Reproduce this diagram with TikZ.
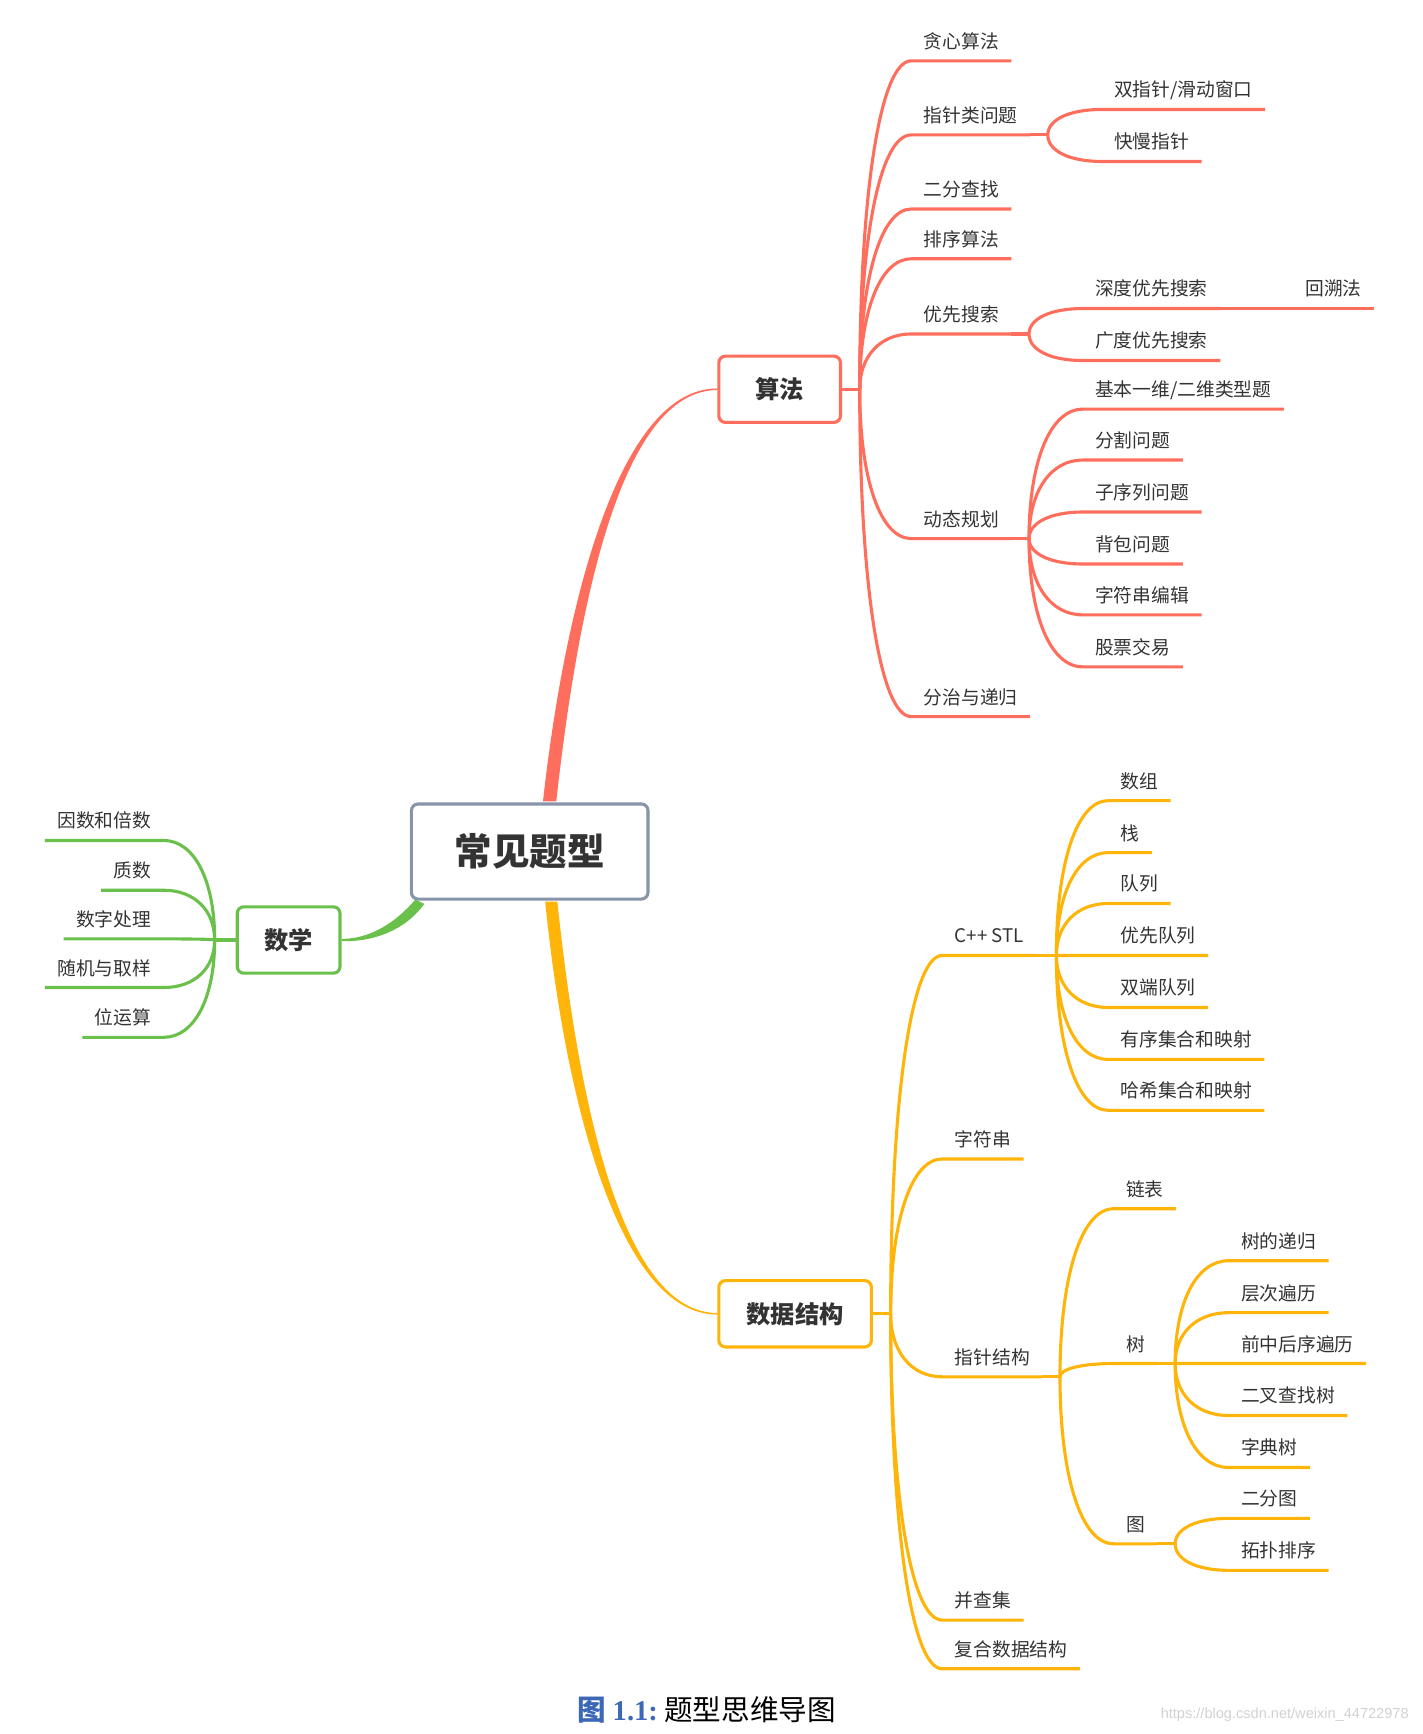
\documentclass[tikz,border=0pt]{standalone}
\usepackage{fontspec}
\setmainfont{Noto Sans CJK SC}
\newfontfamily\capfont{Liberation Serif}
\newfontfamily\wmfont{Liberation Sans}
\usetikzlibrary{calc}

\definecolor{algored}{RGB}{255,110,92}
\definecolor{dsorange}{RGB}{255,180,10}
\definecolor{mathgreen}{RGB}{105,192,74}
\definecolor{rootline}{RGB}{135,148,170}
\definecolor{txt}{RGB}{51,51,51}
\definecolor{capblue}{RGB}{61,104,181}

\tikzset{
  topic/.style={draw, rounded corners=0.12cm, line width=1.6pt, fill=white, text=txt,
    font=\bfseries\fontsize{12.5}{14}\selectfont, minimum height=1.2cm},
  leaf/.style={anchor=south west, inner xsep=0.22cm, inner ysep=0.12cm, text height=0.3cm,
    text depth=0.1cm, text=txt, font=\fontsize{9.65}{11}\selectfont},
  lleaf/.style={leaf, anchor=south east},
  twig/.style={line width=1.6pt},
  fan/.style={to path={.. controls ($(\tikztostart)!0.6!(\tikztostart |- \tikztotarget)$)
    and ($(\tikztotarget)!0.6!(\tikztostart |- \tikztotarget)$) .. (\tikztotarget) \tikztonodes}}
}

\begin{document}
\begin{tikzpicture}[x=0.02cm, y=-0.02cm]
  \useasboundingbox (0,0) rectangle (1286,1568);

  % main topics
  \node[topic, draw=rootline, minimum width=4.28cm, minimum height=1.72cm,
    font=\bfseries\fontsize{19.3}{22}\selectfont] (root) at (479,770) {常见题型};
  \node[topic, draw=algored, minimum width=2.2cm] (suanfa) at (705,352) {算法};
  \node[topic, draw=dsorange, minimum width=2.76cm] (shuju) at (719,1188) {数据结构};
  \node[topic, draw=mathgreen, minimum width=1.86cm] (shuxue) at (261,850) {数学};

  % tapered main branches
  \fill[algored] ($(root.north)+(12,-1)$) .. controls (511,545) and (560,351) .. ($(suanfa.west)+(0,-0.7)$)
    -- ($(suanfa.west)+(0,0.7)$) .. controls (562,353) and (523,545) .. ($(root.north)+(24,-1)$) -- cycle;
  \fill[dsorange] ($(root.south)+(14,1)$) .. controls (511,995) and (560,1189) .. ($(shuju.west)+(0,0.7)$)
    -- ($(shuju.west)+(0,-0.7)$) .. controls (562,1187) and (523,995) .. ($(root.south)+(25,1)$) -- cycle;
  \fill[mathgreen] ($(root.south west)+(5,-1)$) .. controls (358,834) and (335,849) .. ($(shuxue.east)+(0,-1)$)
    -- ($(shuxue.east)+(0,1)$) .. controls (336,852) and (366,842) .. ($(root.south west)+(13,3)$) -- cycle;

  % algorithms
  \coordinate (ja) at ($(suanfa.east)+(16,0)$);
  \draw[twig, algored] (suanfa.east) -- (ja);
  \node[leaf] (tanxin) at (824,55) {贪心算法};
  \node[leaf] (zhizhen) at (824,122) {指针类问题};
  \node[leaf] (erfen) at (824,189) {二分查找};
  \node[leaf] (paixu) at (824,234) {排序算法};
  \node[leaf] (youxian) at (824,302) {优先搜索};
  \node[leaf] (dongtai) at (824,487) {动态规划};
  \node[leaf] (fenzhi) at (824,648) {分治与递归};
  \draw[twig, algored] (ja) to[fan] (tanxin.south west) -- (tanxin.south east);
  \draw[twig, algored] (ja) to[fan] (zhizhen.south west) -- (zhizhen.south east);
  \draw[twig, algored] (ja) to[fan] (erfen.south west) -- (erfen.south east);
  \draw[twig, algored] (ja) to[fan] (paixu.south west) -- (paixu.south east);
  \draw[twig, algored] (ja) to[fan] (youxian.south west) -- (youxian.south east);
  \draw[twig, algored] (ja) to[fan] (dongtai.south west) -- (dongtai.south east);
  \draw[twig, algored] (ja) to[fan] (fenzhi.south west) -- (fenzhi.south east);

  \coordinate (jzz) at ($(zhizhen.south east)+(16,0)$);
  \draw[twig, algored] (zhizhen.south east) -- (jzz);
  \node[leaf] (shuangzz) at (996,99) {双指针/滑动窗口};
  \node[leaf] (kuaiman) at (996,146) {快慢指针};
  \draw[twig, algored] (jzz) to[fan] (shuangzz.south west) -- (shuangzz.south east);
  \draw[twig, algored] (jzz) to[fan] (kuaiman.south west) -- (kuaiman.south east);

  \coordinate (jyx) at ($(youxian.south east)+(16,0)$);
  \draw[twig, algored] (youxian.south east) -- (jyx);
  \node[leaf] (shendu) at (979,279) {深度优先搜索};
  \node[leaf] (guangdu) at (979,326) {广度优先搜索};
  \node[leaf] (huisu) at (1169,279) {回溯法};
  \draw[twig, algored] (jyx) to[fan] (shendu.south west) -- (shendu.south east);
  \draw[twig, algored] (jyx) to[fan] (guangdu.south west) -- (guangdu.south east);
  \draw[twig, algored] (shendu.south east) -- (huisu.south west) -- (huisu.south east);

  \coordinate (jdt) at ($(dongtai.south east)+(16,0)$);
  \draw[twig, algored] (dongtai.south east) -- (jdt);
  \node[leaf] (jiben) at (979,370) {基本一维/二维类型题};
  \node[leaf] (fenge) at (979,416) {分割问题};
  \node[leaf] (zixulie) at (979,463) {子序列问题};
  \node[leaf] (beibao) at (979,510) {背包问题};
  \node[leaf] (bianji) at (979,556) {字符串编辑};
  \node[leaf] (gupiao) at (979,603) {股票交易};
  \draw[twig, algored] (jdt) to[fan] (jiben.south west) -- (jiben.south east);
  \draw[twig, algored] (jdt) to[fan] (fenge.south west) -- (fenge.south east);
  \draw[twig, algored] (jdt) to[fan] (zixulie.south west) -- (zixulie.south east);
  \draw[twig, algored] (jdt) to[fan] (beibao.south west) -- (beibao.south east);
  \draw[twig, algored] (jdt) to[fan] (bianji.south west) -- (bianji.south east);
  \draw[twig, algored] (jdt) to[fan] (gupiao.south west) -- (gupiao.south east);

  % data structures
  \coordinate (jd) at ($(shuju.east)+(16,0)$);
  \draw[twig, dsorange] (shuju.east) -- (jd);
  \node[leaf] (stl) at (852,864) {C++ STL};
  \node[leaf] (zfc) at (852,1048) {字符串};
  \node[leaf] (zzjg) at (852,1245) {指针结构};
  \node[leaf] (bingcha) at (852,1465) {并查集};
  \node[leaf] (fuhe) at (852,1509) {复合数据结构};
  \draw[twig, dsorange] (jd) to[fan] (stl.south west) -- (stl.south east);
  \draw[twig, dsorange] (jd) to[fan] (zfc.south west) -- (zfc.south east);
  \draw[twig, dsorange] (jd) to[fan] (zzjg.south west) -- (zzjg.south east);
  \draw[twig, dsorange] (jd) to[fan] (bingcha.south west) -- (bingcha.south east);
  \draw[twig, dsorange] (jd) to[fan] (fuhe.south west) -- (fuhe.south east);

  \coordinate (jstl) at ($(stl.south east)+(18,0)$);
  \draw[twig, dsorange] (stl.south east) -- (jstl);
  \node[leaf] (shuzu) at (1002,724) {数组};
  \node[leaf] (zhan) at (1002,771) {栈};
  \node[leaf] (duilie) at (1002,817) {队列};
  \node[leaf] (yxdl) at (1002,864) {优先队列};
  \node[leaf] (sddl) at (1002,911) {双端队列};
  \node[leaf] (youxu) at (1002,958) {有序集合和映射};
  \node[leaf] (haxi) at (1002,1004) {哈希集合和映射};
  \draw[twig, dsorange] (jstl) to[fan] (shuzu.south west) -- (shuzu.south east);
  \draw[twig, dsorange] (jstl) to[fan] (zhan.south west) -- (zhan.south east);
  \draw[twig, dsorange] (jstl) to[fan] (duilie.south west) -- (duilie.south east);
  \draw[twig, dsorange] (jstl) to[fan] (yxdl.south west) -- (yxdl.south east);
  \draw[twig, dsorange] (jstl) to[fan] (sddl.south west) -- (sddl.south east);
  \draw[twig, dsorange] (jstl) to[fan] (youxu.south west) -- (youxu.south east);
  \draw[twig, dsorange] (jstl) to[fan] (haxi.south west) -- (haxi.south east);

  \coordinate (jzj) at ($(zzjg.south east)+(16,0)$);
  \draw[twig, dsorange] (zzjg.south east) -- (jzj);
  \node[leaf] (lianbiao) at (1007,1093) {链表};
  \node[leaf] (shu) at (1007,1233) {树};
  \node[leaf] (tu) at (1007,1396) {图};
  \draw[twig, dsorange] (jzj) to[fan] (lianbiao.south west) -- (lianbiao.south east);
  \draw[twig, dsorange] (jzj) to[fan] (shu.south west) -- (shu.south east);
  \draw[twig, dsorange] (jzj) to[fan] (tu.south west) -- (tu.south east);

  \coordinate (jshu) at ($(shu.south east)+(16,0)$);
  \draw[twig, dsorange] (shu.south east) -- (jshu);
  \node[leaf] (digui) at (1111,1140) {树的递归};
  \node[leaf] (cengci) at (1111,1187) {层次遍历};
  \node[leaf] (qianzhong) at (1111,1233) {前中后序遍历};
  \node[leaf] (ercha) at (1111,1280) {二叉查找树};
  \node[leaf] (zidian) at (1111,1327) {字典树};
  \draw[twig, dsorange] (jshu) to[fan] (digui.south west) -- (digui.south east);
  \draw[twig, dsorange] (jshu) to[fan] (cengci.south west) -- (cengci.south east);
  \draw[twig, dsorange] (jshu) to[fan] (qianzhong.south west) -- (qianzhong.south east);
  \draw[twig, dsorange] (jshu) to[fan] (ercha.south west) -- (ercha.south east);
  \draw[twig, dsorange] (jshu) to[fan] (zidian.south west) -- (zidian.south east);

  \coordinate (jtu) at ($(tu.south east)+(16,0)$);
  \draw[twig, dsorange] (tu.south east) -- (jtu);
  \node[leaf] (erfentu) at (1111,1373) {二分图};
  \node[leaf] (tuopu) at (1111,1420) {拓扑排序};
  \draw[twig, dsorange] (jtu) to[fan] (erfentu.south west) -- (erfentu.south east);
  \draw[twig, dsorange] (jtu) to[fan] (tuopu.south west) -- (tuopu.south east);

  % maths
  \coordinate (jm) at ($(shuxue.west)+(-19,0)$);
  \draw[twig, mathgreen] (shuxue.west) -- (jm);
  \node[lleaf] (yinshu) at (148,760) {因数和倍数};
  \node[lleaf] (zhishu) at (148,805) {质数};
  \node[lleaf] (chuli) at (148,849) {数字处理};
  \node[lleaf] (suiji) at (148,893) {随机与取样};
  \node[lleaf] (weiyun) at (148,938) {位运算};
  \draw[twig, mathgreen] (jm) to[fan] (yinshu.south east) -- (yinshu.south west);
  \draw[twig, mathgreen] (jm) to[fan] (zhishu.south east) -- (zhishu.south west);
  \draw[twig, mathgreen] (jm) to[fan] (chuli.south east) -- (chuli.south west);
  \draw[twig, mathgreen] (jm) to[fan] (suiji.south east) -- (suiji.south west);
  \draw[twig, mathgreen] (jm) to[fan] (weiyun.south east) -- (weiyun.south west);

  % caption and watermark
  \node[font=\fontsize{14.7}{16}\selectfont] (caption) at (639,1546)
    {{\color{capblue}\bfseries 图 {\capfont 1.1:}}\ 题型思维导图};
  \node[anchor=east, text=black!18, font=\wmfont\fontsize{7.5}{8}\selectfont] (wm) at (1280,1551)
    {https://blog.csdn.net/weixin\_44722978};
\end{tikzpicture}
\end{document}
